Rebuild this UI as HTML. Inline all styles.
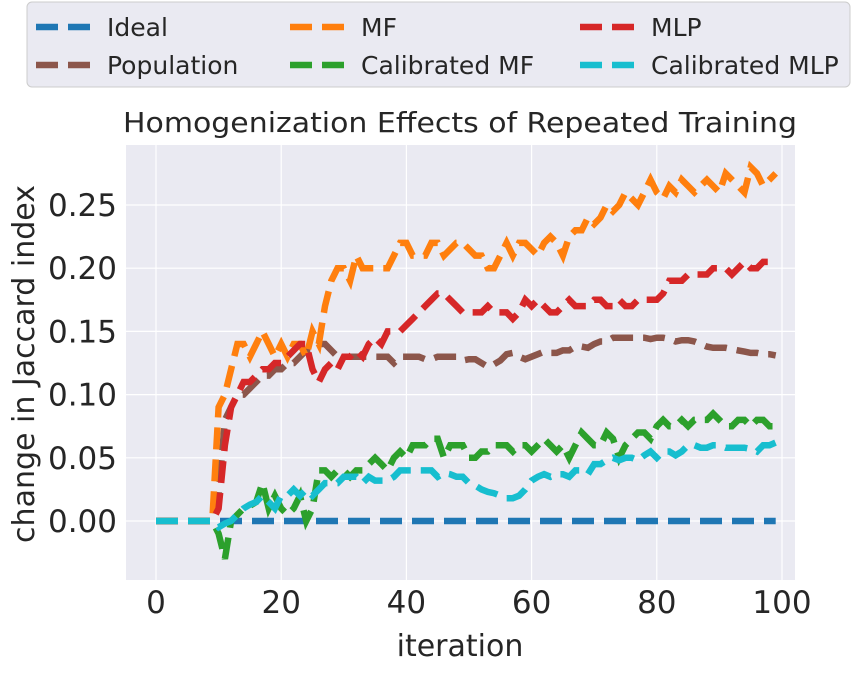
<!DOCTYPE html>
<html><head><meta charset="utf-8"><style>
body{margin:0;background:#fff;}
svg text{font-family:"DejaVu Sans","Liberation Sans",sans-serif;fill:#262626;}
</style></head><body>
<svg id="chart" width="856" height="668" viewBox="0 0 856 668" xmlns="http://www.w3.org/2000/svg">
<rect x="126" y="145" width="669" height="435" fill="#EAEAF2"/>
<g id="grid"></g>
<g id="series"></g>
<g id="axes"></g>
<text x="460" y="132" font-size="28" text-anchor="middle" textLength="674" lengthAdjust="spacingAndGlyphs">Homogenization Effects of Repeated Training</text>
<text x="460" y="656" font-size="30" text-anchor="middle">iteration</text>
<text transform="translate(34,364) rotate(-90)" font-size="30" text-anchor="middle">change in Jaccard index</text>
<g>
<rect x="27" y="2" width="823" height="85" rx="5" fill="#EAEAF2" stroke="#cccccc"/>
<g id="legend-items"></g>
</g>
</svg>
<script>
const xs = Array.from({length:100},(_,i)=>i);
const seriesNames = ["Ideal","Population","MF","Calibrated MF","MLP","Calibrated MLP"];
const ideal = new Array(100).fill(0);
const pre = new Array(10).fill(0);
const population = pre.concat([0.02,0.08,0.09,0.10,0.10,0.105,0.11,0.115,0.115,0.12,0.12,0.125,0.125,0.13,0.135,0.135,0.14,0.14,0.135,0.13,0.13,0.13,0.13,0.13,0.13,0.13,0.13,0.13,0.125,0.13,0.13,0.13,0.13,0.128,0.128,0.13,0.13,0.13,0.13,0.127,0.128,0.128,0.125,0.122,0.124,0.127,0.132,0.133,0.13,0.128,0.13,0.132,0.134,0.133,0.133,0.135,0.135,0.138,0.138,0.137,0.14,0.142,0.142,0.145,0.145,0.145,0.145,0.145,0.145,0.144,0.145,0.145,0.144,0.142,0.143,0.143,0.142,0.14,0.138,0.137,0.137,0.137,0.136,0.135,0.134,0.133,0.133,0.132,0.132,0.131]);
const mf = pre.concat([0.09,0.10,0.12,0.14,0.14,0.13,0.14,0.15,0.14,0.13,0.14,0.13,0.14,0.14,0.13,0.15,0.14,0.17,0.19,0.20,0.20,0.19,0.21,0.20,0.20,0.20,0.20,0.20,0.21,0.22,0.22,0.21,0.21,0.21,0.22,0.22,0.21,0.215,0.22,0.22,0.215,0.21,0.21,0.20,0.20,0.21,0.22,0.21,0.22,0.22,0.215,0.21,0.22,0.225,0.22,0.21,0.225,0.23,0.23,0.24,0.235,0.24,0.25,0.245,0.25,0.26,0.255,0.25,0.26,0.27,0.26,0.255,0.265,0.26,0.27,0.265,0.26,0.265,0.27,0.265,0.26,0.275,0.27,0.265,0.26,0.28,0.275,0.265,0.27,0.275]);
const calMf = pre.concat([-0.01,-0.03,0.0,0.005,0.01,0.012,0.015,0.03,0.01,0.02,0.01,0.005,0.01,0.02,0.0,0.01,0.04,0.04,0.035,0.04,0.04,0.035,0.04,0.04,0.045,0.05,0.045,0.04,0.05,0.055,0.05,0.06,0.06,0.06,0.065,0.065,0.05,0.06,0.06,0.06,0.05,0.05,0.055,0.055,0.06,0.06,0.06,0.055,0.06,0.06,0.055,0.06,0.065,0.06,0.055,0.06,0.05,0.06,0.07,0.065,0.06,0.06,0.07,0.065,0.05,0.06,0.065,0.07,0.07,0.065,0.075,0.08,0.075,0.075,0.08,0.075,0.08,0.08,0.08,0.085,0.08,0.075,0.075,0.08,0.08,0.075,0.08,0.08,0.075,0.075]);
const mlp = pre.concat([0.01,0.06,0.09,0.10,0.11,0.11,0.115,0.12,0.12,0.125,0.125,0.13,0.135,0.14,0.14,0.12,0.11,0.12,0.125,0.12,0.13,0.13,0.135,0.13,0.14,0.145,0.14,0.15,0.15,0.15,0.155,0.16,0.165,0.17,0.175,0.18,0.18,0.175,0.17,0.165,0.165,0.165,0.165,0.17,0.165,0.165,0.165,0.16,0.165,0.175,0.17,0.175,0.17,0.165,0.165,0.17,0.175,0.17,0.17,0.17,0.175,0.175,0.17,0.17,0.175,0.17,0.17,0.175,0.175,0.175,0.175,0.18,0.19,0.19,0.19,0.195,0.195,0.195,0.195,0.2,0.2,0.2,0.195,0.2,0.205,0.2,0.2,0.205,0.205,0.205]);
const calMlp = pre.concat([-0.005,-0.002,0.0,0.005,0.01,0.013,0.015,0.02,0.015,0.01,0.02,0.02,0.025,0.02,0.025,0.02,0.025,0.03,0.03,0.03,0.035,0.035,0.035,0.03,0.035,0.032,0.032,0.032,0.035,0.04,0.04,0.04,0.04,0.04,0.04,0.035,0.038,0.037,0.035,0.035,0.03,0.028,0.025,0.023,0.022,0.02,0.018,0.018,0.02,0.025,0.032,0.035,0.037,0.035,0.037,0.037,0.035,0.04,0.04,0.037,0.045,0.045,0.048,0.05,0.048,0.05,0.05,0.048,0.052,0.055,0.05,0.055,0.055,0.052,0.055,0.06,0.06,0.058,0.058,0.06,0.06,0.058,0.058,0.058,0.058,0.057,0.055,0.06,0.06,0.062]);
const xTicks = [0,20,40,60,80,100];
const yTicks = [0.00,0.05,0.10,0.15,0.20,0.25];
const yTickLabels = ["0.00","0.05","0.10","0.15","0.20","0.25"];

const X0=126,X1=795,Y0=145,Y1=580;
function xs2px(v){return 156+(v-0)*(782-156)/100;}
function ys2px(v){return 521-v*(521-205)/0.25;}
const NS="http://www.w3.org/2000/svg";
function mk(tag,attrs,parent){const e=document.createElementNS(NS,tag);for(const k in attrs)e.setAttribute(k,attrs[k]);parent.appendChild(e);return e;}
const grid=document.getElementById('grid'),axes=document.getElementById('axes'),ser=document.getElementById('series');
xTicks.forEach(t=>{
  const l=mk('line',{x1:xs2px(t),x2:xs2px(t),y1:Y0,y2:Y1,stroke:'#fff','stroke-width':1.2},grid);
  
  
  const tx=mk('text',{x:xs2px(t),y:613,'font-size':31,'text-anchor':'middle'},axes);
  tx.textContent=t;
  
  
});
yTicks.forEach((t,i)=>{
  const l=mk('line',{x1:X0,x2:X1,y1:ys2px(t),y2:ys2px(t),stroke:'#fff','stroke-width':1.2},grid);
  
  
  const tx=mk('text',{x:117,y:ys2px(t)+11,'font-size':31,'text-anchor':'end'},axes);
  tx.textContent=yTickLabels[i];
  
  
});
const colors=["#1f77b4","#8c564b","#ff7f0e","#2ca02c","#d62728","#17becf"];
const data=[ideal,population,mf,calMf,mlp,calMlp];
const order=[0,1,2,3,4,5];
order.forEach(si=>{
  const d=data[si].map((v,i)=>(i?'L':'M')+xs2px(xs[i]).toFixed(1)+','+ys2px(v).toFixed(1)).join(' ');
  const p=mk('path',{d:d,fill:'none',stroke:colors[si],'stroke-width':6.5,'stroke-dasharray':'22 10'},ser);
  
  
});
const leg=document.getElementById('legend-items');
const legPos=[[36,27],[290,27],[580,27],[36,65],[290,65],[580,65]];
const legOrder=[0,2,4,1,3,5];
legOrder.forEach((si,k)=>{
  const [lx,ly]=legPos[k];
  const l=mk('line',{x1:lx,x2:lx+56,y1:ly,y2:ly,stroke:colors[si],'stroke-width':6.5,'stroke-dasharray':'22 10'},leg);
  
  
  const t=mk('text',{x:lx+71,y:ly+9,'font-size':25},leg);
  t.textContent=seriesNames[si];
  
  
});
</script>
</body></html>
